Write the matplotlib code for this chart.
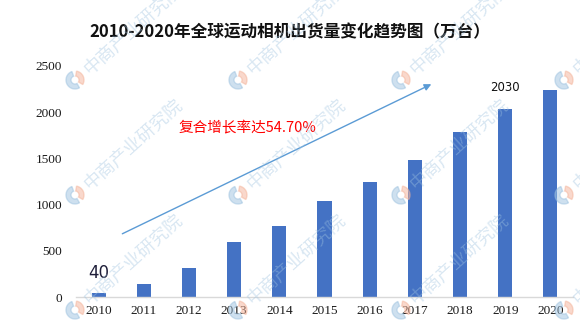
import matplotlib.pyplot as plt
from matplotlib.patches import Wedge

plt.rcParams['font.family'] = ['Noto Sans CJK SC', 'DejaVu Sans']

# 出货量（万台）
years = ['2010', '2011', '2012', '2013', '2014', '2015', '2016', '2017', '2018', '2019', '2020']
shipments = [40, 140, 310, 600, 770, 1040, 1240, 1480, 1790, 2030, 2240]
labelled_years = ['2010', '2019']
y_ticks = [0, 500, 1000, 1500, 2000, 2500]

title = '2010-2020年全球运动相机出货量变化趋势图（万台）'
cagr_text = '复合增长率达54.70%'
watermark = '中商产业研究院'

W, H = 580, 328
fig = plt.figure(figsize=(W / 100, H / 100), dpi=100)
ax = fig.add_axes([76 / W, 31 / H, 497 / W, 231 / H])

x = list(range(len(years)))
ax.bar(x, shipments, width=0.31, color='#4472C4', zorder=2)

ax.set_xlim(-0.5, len(years) - 0.5)
ax.set_ylim(0, 2500)
ax.set_xticks(x)
ax.set_xticklabels(years)
ax.set_yticks(y_ticks)
ax.set_yticklabels([str(v) for v in y_ticks])
for lab in ax.get_xticklabels() + ax.get_yticklabels():
    lab.set_family('Liberation Serif')
    lab.set_fontsize(9.5)
    lab.set_color('#1a1a1a')
ax.tick_params(axis='both', length=0)
ax.tick_params(axis='y', pad=10)
ax.tick_params(axis='x', pad=6)

for side in ['top', 'right', 'left']:
    ax.spines[side].set_visible(False)
ax.spines['bottom'].set_color('#d9d9d9')
ax.spines['bottom'].set_linewidth(1.0)

# value labels
for i, yr in enumerate(years):
    if yr == '2010':
        ax.annotate(str(shipments[i]), (i, shipments[i]), xytext=(0, 8),
                    textcoords='offset points', ha='center', va='bottom',
                    fontsize=12, color='#1f1f3a', family='DejaVu Sans')
    elif yr in labelled_years:
        ax.annotate(str(shipments[i]), (i, shipments[i]), xytext=(0, 11),
                    textcoords='offset points', ha='center', va='bottom',
                    fontsize=8.5, color='#111111', family='DejaVu Sans')

# trend arrow and growth text
ax.annotate('', xy=(7.42, 2316), xytext=(0.47, 671),
            arrowprops=dict(arrowstyle='-|>', color='#5B9BD5', lw=1.0,
                            mutation_scale=10),
            annotation_clip=False, zorder=3)
ax.text(1.76, 1840, cagr_text, color='#ff0000', fontsize=10.5,
        ha='left', va='center')

fig.text(290 / W, 1 - 32 / H, title, ha='center', va='center',
         fontsize=12, fontweight='bold', color='#111111')

# watermark grid
for cx in [75, 238, 401, 564]:
    for cy in [80, 195, 310]:
        fig.text((cx + 12) / W, 1 - (cy - 8) / H, watermark, rotation=42,
                 rotation_mode='anchor', ha='left', va='center',
                 fontsize=13, color='#9fc3e0', alpha=0.4, zorder=5)
        c = (cx / 100, (H - cy) / 100)
        fig.patches.append(Wedge(c, 0.09, 110, 300, width=0.05,
                                 transform=fig.dpi_scale_trans,
                                 color='#9fc3e0', alpha=0.5, zorder=5))
        fig.patches.append(Wedge(c, 0.09, -30, 80, width=0.05,
                                 transform=fig.dpi_scale_trans,
                                 color='#f4b39a', alpha=0.5, zorder=5))

fig.savefig('out.png', dpi=100)
